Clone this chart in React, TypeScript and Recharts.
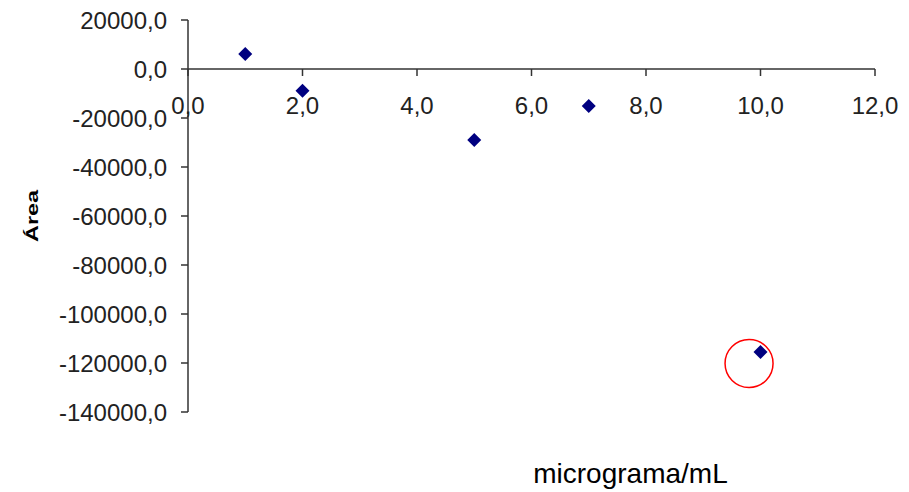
import React from 'react';
import { ScatterChart, Scatter, XAxis, YAxis, ReferenceLine, ReferenceDot, Label } from 'recharts';

const xValues = [1, 2, 5, 7, 10];
const yValues = [6100, -8900, -29000, -15100, -115500];
const xTicks = [0, 2, 4, 6, 8, 10, 12];
const yTicks = [20000, 0, -20000, -40000, -60000, -80000, -100000, -120000, -140000];
const circleMark = { x: 9.8, y: -120200 };

const X_DOMAIN: [number, number] = [0, 12];
const Y_DOMAIN: [number, number] = [-140000, 20000];

const data = xValues.map((x, i) => ({ x, y: yValues[i] }));

const W = 901;
const H = 484;
const MARGIN = { top: 12, right: 34, bottom: 10, left: 0 };
const X_AXIS_H = 70;
const PLOT_TOP = MARGIN.top;
const PLOT_H = H - MARGIN.top - MARGIN.bottom - X_AXIS_H;
const ZERO_Y = PLOT_TOP + (PLOT_H * (Y_DOMAIN[1] - 0)) / (Y_DOMAIN[1] - Y_DOMAIN[0]);

const fmt = (v: number) => v.toFixed(1).replace('.', ',');
const AXIS_COLOR = '#333';
const TEXT_COLOR = '#222';
const FONT = "'Liberation Sans', Arial, sans-serif";

const XTick = (props: any) => {
  const { x, payload } = props;
  return (
    <g>
      <line x1={x} x2={x} y1={ZERO_Y} y2={ZERO_Y + 7} stroke={AXIS_COLOR} strokeWidth={1.5} />
      <text x={x} y={ZERO_Y + 45} textAnchor="middle" fontSize={24} fill={TEXT_COLOR} fontFamily={FONT}>
        {fmt(payload.value)}
      </text>
    </g>
  );
};

const Diamond = (props: any) => {
  const { cx, cy } = props;
  const r = 7;
  return (
    <polygon
      points={`${cx},${cy - r} ${cx + r},${cy} ${cx},${cy + r} ${cx - r},${cy}`}
      fill="#000080"
    />
  );
};

const YLabel = (props: any) => {
  const vb = props.viewBox || { x: 0, y: 0, width: 0, height: 0 };
  const x = vb.x + 30;
  const y = vb.y + vb.height / 2;
  return (
    <text
      x={0}
      y={0}
      transform={`translate(${x}, ${y}) rotate(-90) scale(1.38, 1)`}
      textAnchor="middle"
      fontSize={17}
      fontWeight="bold"
      fill="#000"
      fontFamily={FONT}
    >
      Área
    </text>
  );
};

const XLabel = (props: any) => {
  const vb = props.viewBox || { x: 0, y: 0, width: 0, height: 0 };
  const x = vb.x + vb.width / 2 + 99;
  const y = vb.y + 71;
  return (
    <text x={x} y={y} textAnchor="middle" fontSize={28} fill="#000" fontFamily={FONT}>
      micrograma/mL
    </text>
  );
};

export default function App() {
  return (
    <div style={{ width: W, height: H, background: '#fff' }}>
      <ScatterChart width={W} height={H} margin={MARGIN} style={{ fontFamily: FONT }}>
        <XAxis
          type="number"
          dataKey="x"
          domain={X_DOMAIN}
          ticks={xTicks}
          interval={0}
          height={X_AXIS_H}
          axisLine={false}
          tickLine={false}
          tick={(p: any) => <XTick {...p} />}
          allowDataOverflow
        >
          <Label content={(p: any) => <XLabel {...p} />} />
        </XAxis>
        <YAxis
          type="number"
          dataKey="y"
          domain={Y_DOMAIN}
          ticks={yTicks}
          interval={0}
          width={180}
          tickSize={7}
          tickMargin={14}
          axisLine={{ stroke: AXIS_COLOR, strokeWidth: 1.5 }}
          tickLine={{ stroke: AXIS_COLOR, strokeWidth: 1.5 }}
          tick={{ fontSize: 24, fill: TEXT_COLOR, fontFamily: FONT }}
          tickFormatter={fmt}
          allowDataOverflow
        >
          <Label content={(p: any) => <YLabel {...p} />} />
        </YAxis>
        <ReferenceLine y={0} stroke={AXIS_COLOR} strokeWidth={1.5} />
        <Scatter data={data} shape={(p: any) => <Diamond {...p} />} isAnimationActive={false} />
        <ReferenceDot
          x={circleMark.x}
          y={circleMark.y}
          r={24}
          fill="none"
          stroke="#ff0000"
          strokeWidth={1.5}
          ifOverflow="visible"
        />
      </ScatterChart>
    </div>
  );
}
